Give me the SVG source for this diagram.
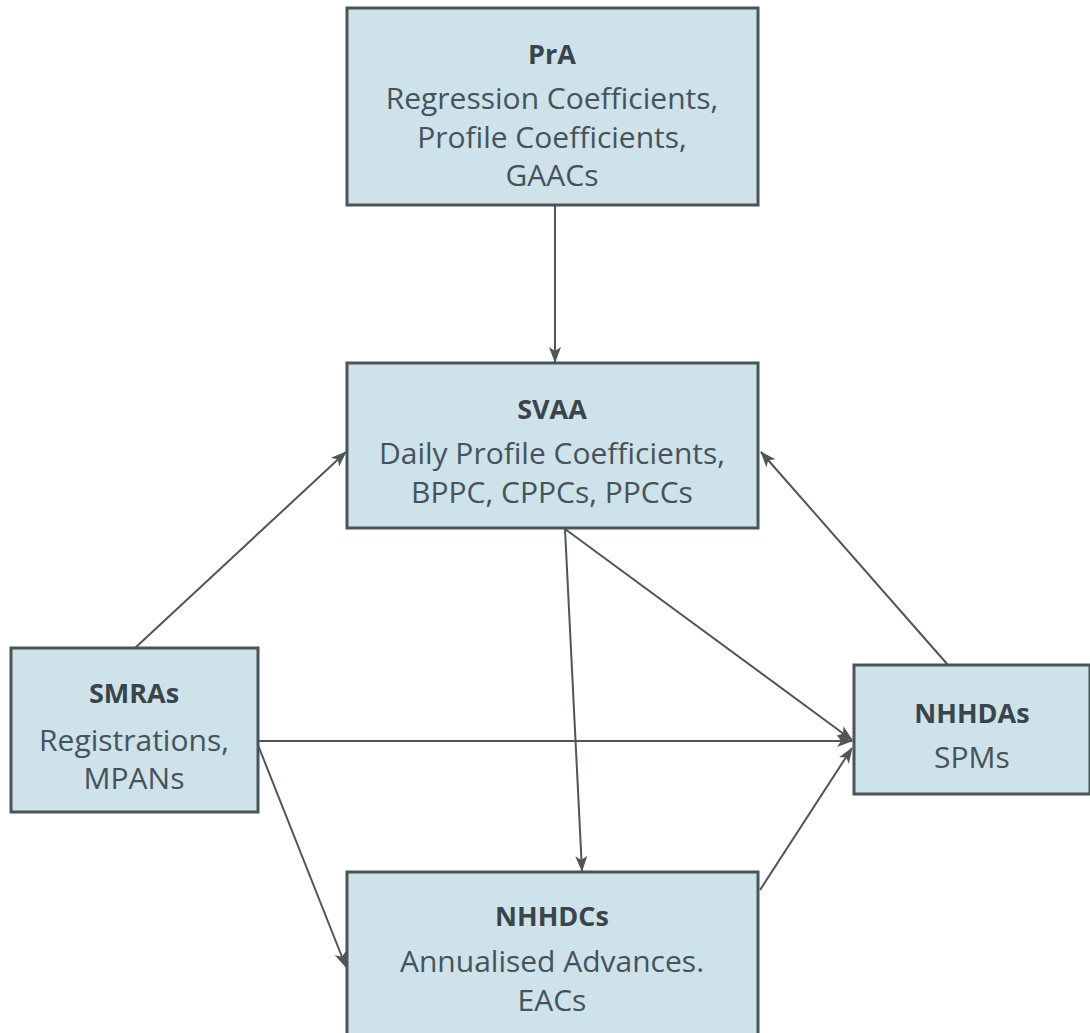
<svg xmlns="http://www.w3.org/2000/svg" width="1090" height="1033" viewBox="0 0 1090 1033">
<defs>
<style>
.box{fill:#cde2e9;stroke:#4b5459;stroke-width:3}
.t{font-family:"Open Sans","Noto Sans",sans-serif;font-size:27px;font-weight:bold;fill:#3a454b;text-anchor:middle}
.b{font-family:"Open Sans","Noto Sans",sans-serif;font-size:30px;fill:#46535a;text-anchor:middle}
.c{stroke:#4f5559;stroke-width:2;fill:none;marker-end:url(#ah)}
</style>
<marker id="ah" viewBox="0 0 16 12" refX="15" refY="6" markerWidth="16" markerHeight="12" markerUnits="userSpaceOnUse" orient="auto">
<path d="M0,0 L16,6 L0,12 L4,6 Z" fill="#4f5559"/>
</marker>
</defs>
<rect width="1090" height="1033" fill="#ffffff"/>
<g id="connectors">
<line class="c" x1="555" y1="205" x2="555" y2="362"/>
<line class="c" x1="135" y1="648" x2="346" y2="452"/>
<line class="c" x1="565" y1="529" x2="582" y2="871"/>
<line class="c" x1="565" y1="529" x2="852" y2="740"/>
<line class="c" x1="948" y1="665" x2="761" y2="452"/>
<line class="c" x1="258" y1="741" x2="852" y2="741"/>
<line class="c" x1="258" y1="745" x2="346" y2="967"/>
<line class="c" x1="760" y1="890" x2="852" y2="748"/>
</g>
<g id="PrA">
<rect class="box" x="347" y="8" width="411" height="197"/>
<text class="t" x="552" y="64">PrA</text>
<text class="b" x="552" y="109">Regression Coefficients,</text>
<text class="b" x="552" y="148">Profile Coefficients,</text>
<text class="b" x="552" y="186">GAACs</text>
</g>
<g id="SVAA">
<rect class="box" x="347" y="363" width="411" height="165"/>
<text class="t" x="552" y="419">SVAA</text>
<text class="b" x="552" y="464">Daily Profile Coefficients,</text>
<text class="b" x="552" y="503">BPPC, CPPCs, PPCCs</text>
</g>
<g id="SMRAs">
<rect class="box" x="11" y="648" width="247" height="164"/>
<text class="t" x="134" y="703">SMRAs</text>
<text class="b" x="134" y="751">Registrations,</text>
<text class="b" x="134" y="789">MPANs</text>
</g>
<g id="NHHDAs">
<rect class="box" x="854" y="665" width="236" height="129"/>
<text class="t" x="972" y="723">NHHDAs</text>
<text class="b" x="972" y="768">SPMs</text>
</g>
<g id="NHHDCs">
<rect class="box" x="347" y="872" width="411" height="175"/>
<text class="t" x="552" y="926">NHHDCs</text>
<text class="b" x="552" y="972">Annualised Advances.</text>
<text class="b" x="552" y="1011">EACs</text>
</g>
</svg>
